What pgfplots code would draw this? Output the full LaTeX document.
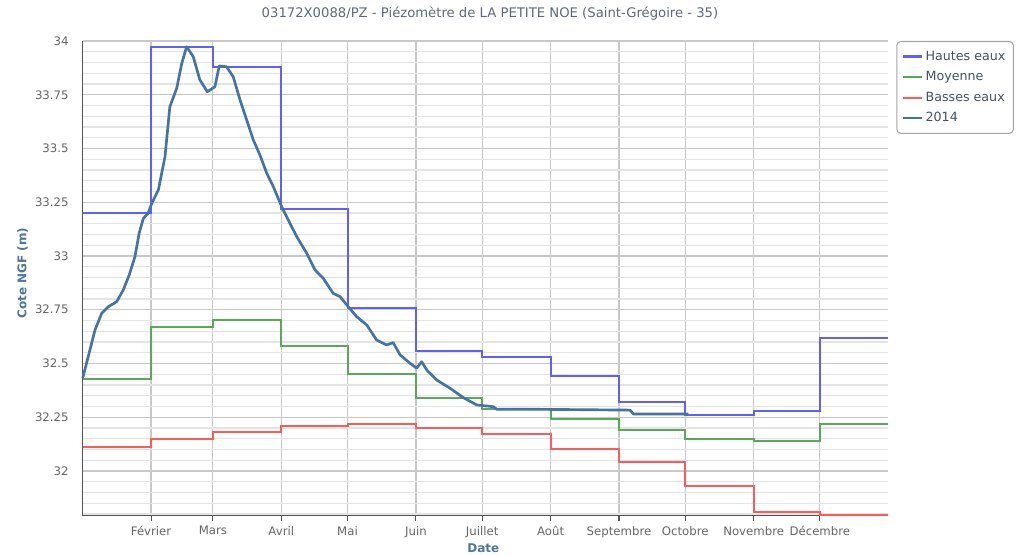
\documentclass[border=0pt]{standalone}
\usepackage{fontspec}
\setmainfont{DejaVu Sans}
\usepackage{pgfplots}
\pgfplotsset{compat=1.18}
\definecolor{hautes}{RGB}{95,95,255}
\definecolor{moyenne}{RGB}{90,168,90}
\definecolor{basses}{RGB}{255,90,90}
\definecolor{c2014}{RGB}{69,114,167}
\definecolor{gridmaj}{RGB}{200,200,200}
\definecolor{gridmin}{RGB}{228,228,228}
\definecolor{ticklab}{RGB}{102,102,102}
\definecolor{axtitle}{RGB}{77,117,158}
\definecolor{titlecol}{RGB}{95,105,120}
\definecolor{legtext}{RGB}{70,82,98}
\definecolor{axline}{RGB}{85,85,85}

\pgfplotstableread{
x y
0 33.20
31 33.97
59 33.88
90 33.22
120 32.76
151 32.56
181 32.53
212 32.44
243 32.32
273 32.26
304 32.28
334 32.62
365 32.62
}\hautes

\pgfplotstableread{
x y
0 32.43
31 32.67
59 32.70
90 32.58
120 32.45
151 32.34
181 32.29
212 32.24
243 32.19
273 32.15
304 32.14
334 32.22
365 32.22
}\moyenne

\pgfplotstableread{
x y
0 32.11
31 32.15
59 32.18
90 32.21
120 32.22
151 32.20
181 32.17
212 32.10
243 32.04
273 31.93
304 31.81
334 31.795
365 31.795
}\basses

\pgfplotstableread{
x y
0 32.431
3.3 32.563
5.6 32.656
8.6 32.733
11.6 32.764
15.4 32.787
18.4 32.842
21.1 32.912
23.7 32.997
25.6 33.106
27.5 33.175
29.7 33.199
31.3 33.245
34.3 33.307
37.3 33.462
39.5 33.694
42.6 33.780
44.9 33.896
47.1 33.973
50.1 33.927
53.1 33.819
56.5 33.764
59.9 33.787
61.9 33.884
65.2 33.880
68.2 33.834
71.3 33.726
74.3 33.633
77.3 33.540
80.3 33.470
83.4 33.385
86.4 33.322
90.2 33.229
93.9 33.152
97.0 33.090
101.5 33.013
105.3 32.935
109.0 32.896
113.5 32.826
116.6 32.811
120.3 32.764
124.1 32.718
128.7 32.679
133.2 32.609
137.7 32.586
140.7 32.597
143.8 32.540
148.3 32.501
151.3 32.478
153.6 32.508
155.9 32.470
160.4 32.423
166.4 32.385
172.5 32.341
178.5 32.307
186.0 32.299
187.6 32.287
202.7 32.287
248.0 32.283
249.5 32.265
274.4 32.265
}\annee

\begin{document}
\begin{tikzpicture}[x=1pt,y=1pt]
\path[use as bounding box] (0,0) rectangle (773.25,416.25);
\begin{axis}[
  at={(62pt,29.5pt)}, anchor=south west,
  scale only axis, width=604.2pt, height=356pt,
  xmin=0, xmax=365, ymin=31.792, ymax=34,
  axis lines=left,
  axis line style={-, draw=axline, line width=1.1pt},
  xtick={31,59,90,120,151,181,212,243,273,304,334},
  xticklabels={Février,Mars,Avril,Mai,Juin,Juillet,Août,Septembre,Octobre,Novembre,Décembre},
  ytick={32,32.25,32.5,32.75,33,33.25,33.5,33.75,34},
  yticklabels={32,32.25,32.5,32.75,33,33.25,33.5,33.75,34},
  minor ytick={31.8,31.85,31.9,31.95,32.05,32.1,32.15,32.2,32.3,32.35,32.4,32.45,32.55,32.6,32.65,32.7,32.8,32.85,32.9,32.95,33.05,33.1,33.15,33.2,33.3,33.35,33.4,33.45,33.55,33.6,33.65,33.7,33.8,33.85,33.9,33.95},
  grid=both,
  major grid style={draw=gridmaj, line width=0.9pt},
  minor grid style={draw=gridmin, line width=0.9pt},
  ytick style={draw=none},
  minor tick length=0pt,
  xtick style={draw=axline, line width=0.8pt},
  tick align=outside,
  major tick length=4pt,
  xticklabel style={font=\fontsize{8.8}{10}\selectfont, text=ticklab, yshift=-0.5pt},
  yticklabel style={font=\fontsize{8.8}{10}\selectfont, text=ticklab, xshift=-3pt},
  clip=false,
  legend style={at={(1,1)}, anchor=north west, xshift=6pt,
    draw={rgb,255:red,165;green,165;blue,165}, line width=0.8pt, rounded corners=3pt,
    font=\fontsize{9.5}{11}\selectfont, text=legtext,
    inner xsep=4pt, inner ysep=5pt, row sep=3pt,
    cells={anchor=west}},
  legend image code/.code={\draw[#1, line width=1.6pt] (0pt,0pt) -- (14pt,0pt);},
]
\addplot[const plot, draw=hautes, line width=1.5pt] table[x=x,y=y] {\hautes};
\addlegendentry{Hautes eaux}
\addplot[const plot, draw=moyenne, line width=1.5pt] table[x=x,y=y] {\moyenne};
\addlegendentry{Moyenne}
\addplot[const plot, draw=basses, line width=1.5pt] table[x=x,y=y] {\basses};
\addlegendentry{Basses eaux}
\addplot[draw=c2014, line width=2pt, line join=round] table[x=x,y=y] {\annee};
\addlegendentry{2014}
\end{axis}
\node[font=\fontsize{9.9}{12}\selectfont, text=titlecol] at (367.5,405.75) {03172X0088/PZ - Piézomètre de LA PETITE NOE (Saint-Grégoire - 35)};
\node[font=\bfseries\fontsize{9}{10}\selectfont, text=axtitle] at (362.5,5.25) {Date};
\node[font=\bfseries\fontsize{9}{10}\selectfont, text=axtitle, rotate=90] at (17,211.5) {Cote NGF (m)};
\end{tikzpicture}
\end{document}
